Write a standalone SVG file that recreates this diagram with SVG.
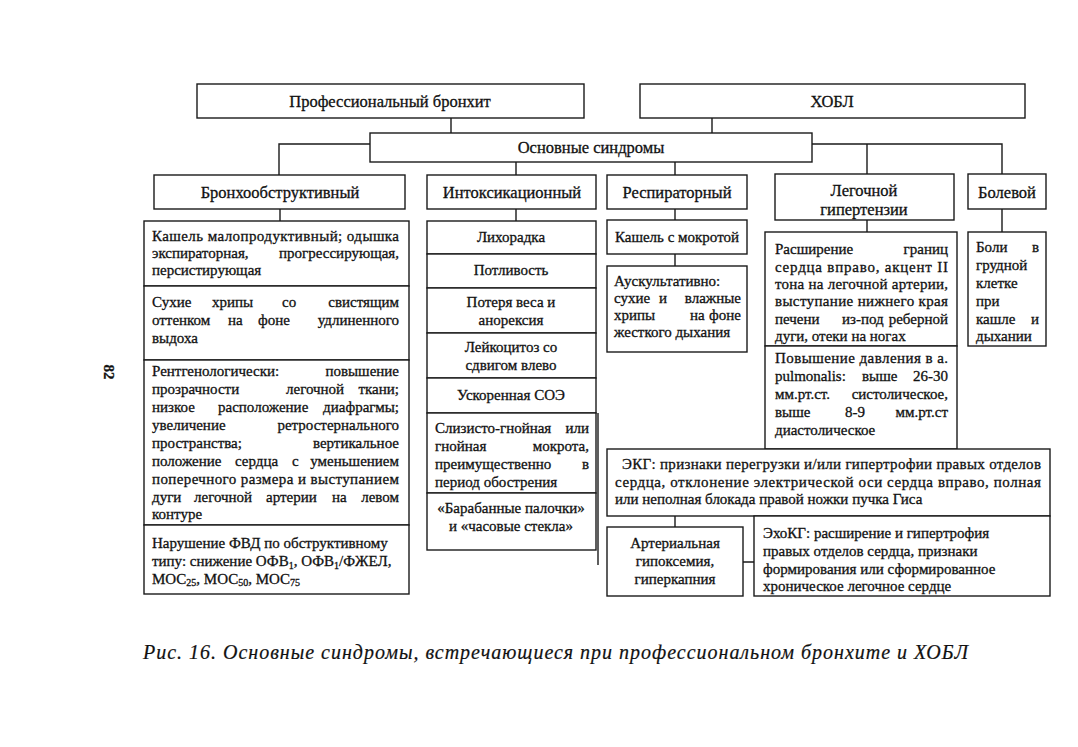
<svg xmlns="http://www.w3.org/2000/svg" width="1078" height="747" viewBox="0 0 1078 747">
<style>
.bx{fill:#fff;stroke:#1a1a1a;stroke-width:1.4}
.cn{fill:none;stroke:#1a1a1a;stroke-width:1.4}
text{font-family:"Liberation Serif","Times New Roman",serif;font-size:15px;fill:#111;stroke:#111;stroke-width:0.3}
.h{font-size:16.5px}
.m{text-anchor:middle}
.e{text-anchor:end}
.s{font-size:10px}
.cap{font-size:20px;font-style:italic;stroke-width:0.2}
</style>
<rect width="1078" height="747" fill="#fff"/>
<g id="connectors">
<path class="cn" d="M451 118V133M712 118V133"/>
<path class="cn" d="M370 144H279V175M812 144H1002V174M867 144V174"/>
<path class="cn" d="M516 162V175M675 162V175"/>
<path class="cn" d="M280 209V221M516 209V221M675 209V220M675 254V266M867 220V232M1002 209V232"/>
<path class="cn" d="M598 413V565"/>
<path class="cn" d="M675 516V527M743 562H754"/>
</g>
<g id="n-prof"><rect class="bx" x="197" y="84" width="387" height="34"/><text class="m h" x="390" y="107">Профессиональный бронхит</text></g>
<g id="n-hobl"><rect class="bx" x="640" y="84" width="385" height="34"/><text class="m h" x="832" y="107">ХОБЛ</text></g>
<g id="n-main"><rect class="bx" x="370" y="133" width="442" height="29"/><text class="m h" x="591" y="153">Основные синдромы</text></g>
<g id="n-broncho"><rect class="bx" x="154" y="175" width="251" height="34"/><text class="m h" x="280" y="198">Бронхообструктивный</text></g>
<g id="n-intox"><rect class="bx" x="427" y="175" width="169" height="34"/><text class="m h" x="512" y="198">Интоксикационный</text></g>
<g id="n-resp"><rect class="bx" x="607" y="175" width="140" height="34"/><text class="m h" x="677" y="198">Респираторный</text></g>
<g id="n-pulm"><rect class="bx" x="775" y="174" width="179" height="46"/><text class="m h" x="864" y="196">Легочной</text><text class="m h" x="864" y="215">гипертензии</text></g>
<g id="n-pain"><rect class="bx" x="968" y="174" width="78" height="35"/><text class="m h" x="1007" y="198">Болевой</text></g>
<g id="n-b1"><rect class="bx" x="144" y="221" width="265" height="65"/>
<text x="152" y="241" textLength="247" lengthAdjust="spacing">Кашель малопродуктивный; одышка</text>
<text x="152" y="258">экспираторная,</text><text class="e" x="399" y="258">прогрессирующая,</text>
<text x="152" y="275">персистирующая</text></g>
<g id="n-b2"><rect class="bx" x="144" y="286" width="265" height="74"/>
<text x="152" y="307">Сухие</text><text x="212" y="307">хрипы</text><text x="282" y="307">со</text><text class="e" x="399" y="307">свистящим</text>
<text x="152" y="325">оттенком</text><text x="228" y="325">на</text><text x="258" y="325">фоне</text><text class="e" x="399" y="325">удлиненного</text>
<text x="152" y="343">выдоха</text></g>
<g id="n-b3"><rect class="bx" x="144" y="360" width="265" height="165"/>
<text x="152" y="376">Рентгенологически:</text><text class="e" x="399" y="376">повышение</text>
<text x="152" y="394">прозрачности</text><text x="286" y="394">легочной</text><text class="e" x="399" y="394">ткани;</text>
<text x="152" y="412">низкое</text><text x="218" y="412">расположение</text><text class="e" x="399" y="412">диафрагмы;</text>
<text x="152" y="430">увеличение</text><text class="e" x="399" y="430">ретростернального</text>
<text x="152" y="448">пространства;</text><text class="e" x="399" y="448">вертикальное</text>
<text x="152" y="466">положение</text><text x="235" y="466">сердца</text><text x="292" y="466">с</text><text class="e" x="399" y="466">уменьшением</text>
<text x="152" y="484" textLength="247" lengthAdjust="spacing">поперечного размера и выступанием</text>
<text x="152" y="502">дуги</text><text x="194" y="502">легочной</text><text x="266" y="502">артерии</text><text x="332" y="502">на</text><text class="e" x="399" y="502">левом</text>
<text x="152" y="519">контуре</text></g>
<g id="n-b4"><rect class="bx" x="144" y="525" width="265" height="69"/>
<text x="152" y="548">Нарушение ФВД по обструктивному</text>
<text x="152" y="566">типу: снижение ОФВ<tspan class="s" dy="3">1</tspan><tspan dy="-3">, ОФВ</tspan><tspan class="s" dy="3">1</tspan><tspan dy="-3">/ФЖЕЛ,</tspan></text>
<text x="152" y="584">МОС<tspan class="s" dy="2">25</tspan><tspan dy="-2">, МОС</tspan><tspan class="s" dy="2">50</tspan><tspan dy="-2">, МОС</tspan><tspan class="s" dy="2">75</tspan></text></g>
<g id="n-i1"><rect class="bx" x="427" y="221" width="169" height="33"/><text class="m" x="511" y="242">Лихорадка</text></g>
<g id="n-i2"><rect class="bx" x="427" y="254" width="169" height="34"/><text class="m" x="511" y="275">Потливость</text></g>
<g id="n-i3"><rect class="bx" x="427" y="288" width="169" height="45"/><text class="m" x="511" y="307">Потеря веса и</text><text class="m" x="511" y="325">анорексия</text></g>
<g id="n-i4"><rect class="bx" x="427" y="333" width="169" height="45"/><text class="m" x="511" y="352">Лейкоцитоз со</text><text class="m" x="511" y="370">сдвигом влево</text></g>
<g id="n-i5"><rect class="bx" x="427" y="378" width="169" height="35"/><text class="m" x="511" y="400">Ускоренная СОЭ</text></g>
<g id="n-i6"><rect class="bx" x="427" y="413" width="169" height="80"/>
<text x="435" y="433">Слизисто-гнойная</text><text class="e" x="589" y="433">или</text>
<text x="435" y="451">гнойная</text><text class="e" x="589" y="451">мокрота,</text>
<text x="435" y="469">преимущественно</text><text class="e" x="589" y="469">в</text>
<text x="435" y="487">период обострения</text></g>
<g id="n-i7"><rect class="bx" x="427" y="493" width="169" height="57"/><text class="m" x="511" y="513">«Барабанные палочки»</text><text class="m" x="511" y="531">и «часовые стекла»</text></g>
<g id="n-r1"><rect class="bx" x="607" y="220" width="140" height="34"/><text class="m" x="677" y="242">Кашель с мокротой</text></g>
<g id="n-r2"><rect class="bx" x="607" y="266" width="140" height="86"/>
<text x="614" y="286">Аускультативно:</text>
<text x="614" y="303">сухие</text><text x="659" y="303">и</text><text class="e" x="741" y="303">влажные</text>
<text x="614" y="320">хрипы</text><text x="690" y="320">на</text><text class="e" x="741" y="320">фоне</text>
<text x="614" y="337">жесткого дыхания</text></g>
<g id="n-p1"><rect class="bx" x="765" y="232" width="192" height="114"/>
<text x="775" y="254">Расширение</text><text class="e" x="948" y="254">границ</text>
<text x="775" y="272" textLength="173" lengthAdjust="spacing">сердца вправо, акцент II</text>
<text x="775" y="289" textLength="173" lengthAdjust="spacing">тона на легочной артерии,</text>
<text x="775" y="306" textLength="173" lengthAdjust="spacing">выступание нижнего края</text>
<text x="775" y="324">печени</text><text x="842" y="324">из-под</text><text class="e" x="948" y="324">реберной</text>
<text x="775" y="341">дуги, отеки на ногах</text></g>
<g id="n-p2"><rect class="bx" x="765" y="346" width="192" height="103"/>
<text x="775" y="363" textLength="173" lengthAdjust="spacing">Повышение давления в а.</text>
<text x="775" y="381">pulmonalis:</text><text x="862" y="381">выше</text><text class="e" x="948" y="381">26-30</text>
<text x="775" y="399">мм.рт.ст.</text><text class="e" x="948" y="399">систолическое,</text>
<text x="775" y="417">выше</text><text x="845" y="417">8-9</text><text class="e" x="948" y="417">мм.рт.ст</text>
<text x="775" y="435">диастолическое</text></g>
<g id="n-pain1"><rect class="bx" x="968" y="232" width="78" height="114"/>
<text x="976" y="252">Боли</text><text class="e" x="1039" y="252">в</text>
<text x="976" y="270">грудной</text>
<text x="976" y="288">клетке</text>
<text x="976" y="306">при</text>
<text x="976" y="324">кашле</text><text class="e" x="1039" y="324">и</text>
<text x="976" y="341">дыхании</text></g>
<g id="n-ekg"><rect class="bx" x="607" y="449" width="443" height="67"/>
<text x="622" y="469" textLength="419" lengthAdjust="spacing">ЭКГ: признаки перегрузки и/или гипертрофии правых отделов</text>
<text x="615" y="487" textLength="426" lengthAdjust="spacing">сердца, отклонение электрической оси сердца вправо, полная</text>
<text x="615" y="504">или неполная блокада правой ножки пучка Гиса</text></g>
<g id="n-art"><rect class="bx" x="607" y="527" width="136" height="69"/>
<text class="m" x="675" y="548">Артериальная</text><text class="m" x="675" y="566">гипоксемия,</text><text class="m" x="675" y="584">гиперкапния</text></g>
<g id="n-echo"><rect class="bx" x="754" y="516" width="296" height="80"/>
<text x="763" y="538">ЭхоКГ: расширение и гипертрофия</text>
<text x="763" y="556">правых отделов сердца, признаки</text>
<text x="763" y="574">формирования или сформированное</text>
<text x="763" y="591">хроническое легочное сердце</text></g>
<text class="m" x="112" y="380" font-size="22" font-weight="bold" transform="rotate(90 112 372)">82</text>
<text class="cap" x="143" y="659" textLength="825" lengthAdjust="spacing">Рис. 16. Основные синдромы, встречающиеся при профессиональном бронхите и ХОБЛ</text>
</svg>
